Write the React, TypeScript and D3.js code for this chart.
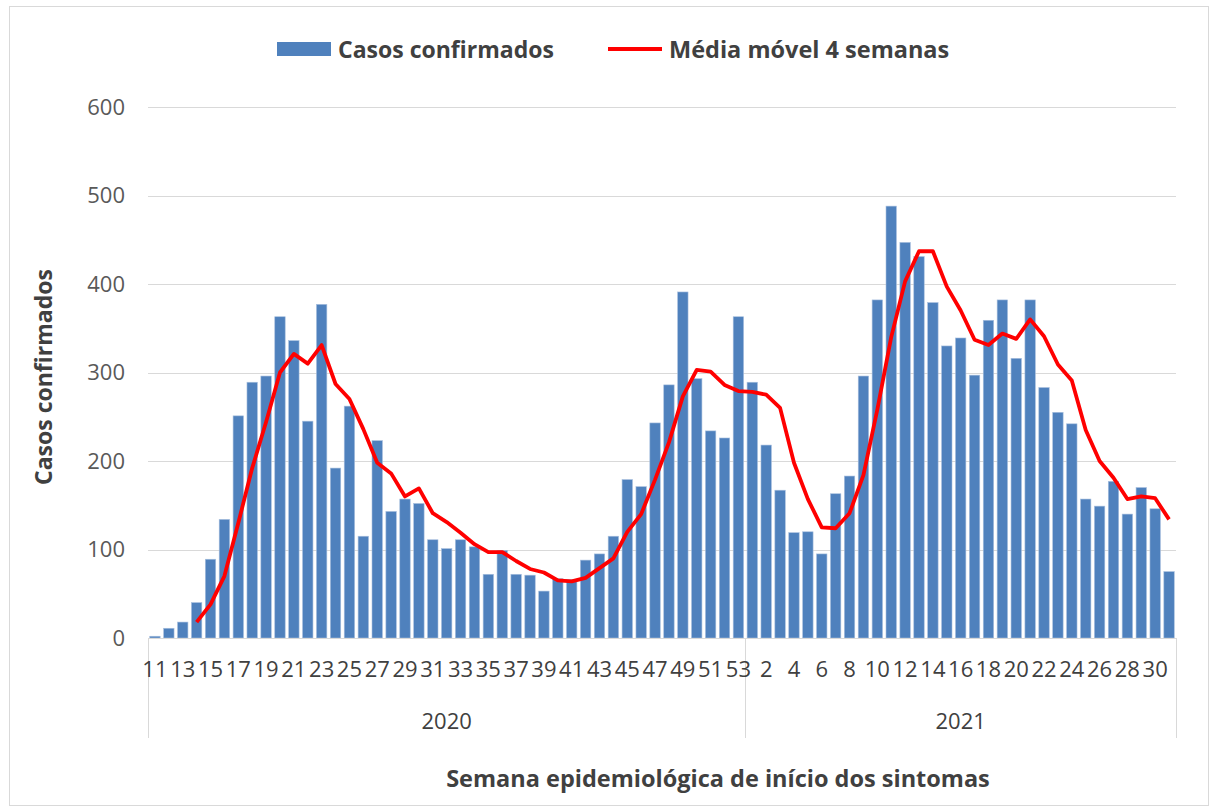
import React, { useEffect, useRef } from 'react';
import * as d3 from 'd3';

// semanas epidemiológicas
const weeks2020 = d3.range(11, 54);
const weeks2021 = d3.range(1, 32);

// casos confirmados por semana
const cases2020 = [
  2, 11, 18, 40, 89, 134, 251, 289, 296, 363,
  336, 245, 377, 192, 262, 115, 223, 143, 157, 152,
  111, 101, 111, 103, 72, 99, 72, 71, 53, 67,
  66, 88, 95, 115, 179, 171, 243, 286, 391, 293,
  234, 226, 363,
];
const cases2021 = [
  289, 218, 167, 119, 120, 95, 163, 183, 296, 382,
  488, 447, 431, 379, 330, 339, 297, 359, 382, 316,
  382, 283, 255, 242, 157, 149, 177, 140, 170, 146,
  75,
];

// média móvel 4 semanas (null = sem valor)
const avg2020 = [
  null, null, null, 18, 38, 70, 130, 192, 244, 300,
  321, 310, 331, 287, 270, 236, 198, 186, 160, 169,
  141, 131, 119, 106, 97, 97, 87, 78, 74, 65,
  64, 68, 79, 90, 120, 140, 179, 221, 273, 303,
  301, 286, 279,
];
const avg2021 = [
  278, 275, 260, 198, 157, 125, 124, 141, 184, 258,
  340, 403, 437, 437, 397, 370, 337, 331, 344, 338,
  360, 341, 309, 291, 235, 200, 181, 157, 160, 158,
  134,
];

const years = ['2020', '2021'];
const yTicks = [0, 100, 200, 300, 400, 500, 600];

const FONT = '"Open Sans", Lato, sans-serif';

function CasosChart() {
  const ref = useRef<SVGSVGElement>(null);
  const width = 1218;
  const height = 810;
  const plot = { left: 148, right: 1176, top: 107, bottom: 638 };

  useEffect(() => {
    drawChart();
  });

  function drawChart() {
    const data = [
      ...weeks2020.map((w, i) => ({ key: `2020-${w}`, week: w, year: '2020', cases: cases2020[i], avg: avg2020[i] })),
      ...weeks2021.map((w, i) => ({ key: `2021-${w}`, week: w, year: '2021', cases: cases2021[i], avg: avg2021[i] })),
    ];

    const svg = d3.select(ref.current);
    svg.selectAll('*').remove();

    const x = d3.scaleBand()
      .domain(data.map(d => d.key))
      .range([plot.left, plot.right])
      .paddingInner(0.25)
      .paddingOuter(0.125);

    const y = d3.scaleLinear()
      .domain([0, 600])
      .range([plot.bottom, plot.top]);

    // moldura
    svg.append('rect')
      .attr('x', 9.5).attr('y', 6.5)
      .attr('width', 1199).attr('height', 799)
      .style('fill', 'white')
      .style('stroke', '#d9d9d9')
      .style('stroke-width', 1);

    // grade
    svg.append('g')
      .selectAll('line')
      .data(yTicks)
      .enter()
      .append('line')
      .attr('x1', plot.left).attr('x2', plot.right)
      .attr('y1', d => Math.round(y(d)) + 0.5).attr('y2', d => Math.round(y(d)) + 0.5)
      .style('stroke', '#d9d9d9')
      .style('stroke-width', 1.2);

    svg.append('g')
      .selectAll('text')
      .data(yTicks)
      .enter()
      .append('text')
      .attr('x', 125)
      .attr('y', d => y(d))
      .attr('dy', '0.36em')
      .attr('text-anchor', 'end')
      .style('font-family', FONT)
      .style('font-size', '22px')
      .style('fill', '#595959')
      .text(d => d);

    // barras
    svg.append('g')
      .selectAll('rect')
      .data(data)
      .enter()
      .append('rect')
      .attr('x', d => x(d.key)!)
      .attr('y', d => y(d.cases))
      .attr('width', x.bandwidth())
      .attr('height', d => y(0) - y(d.cases))
      .style('fill', '#4f81bd')
      .style('stroke', '#a7bfde')
      .style('stroke-width', 0.6);

    // média móvel
    const line = d3.line<any>()
      .defined(d => d.avg != null)
      .x(d => x(d.key)! + x.bandwidth() / 2)
      .y(d => y(d.avg));

    svg.append('path')
      .datum(data)
      .attr('d', line)
      .style('fill', 'none')
      .style('stroke', '#ff0000')
      .style('stroke-width', 3.8)
      .style('stroke-linejoin', 'round');

    // eixo x
    svg.append('line')
      .attr('x1', plot.left).attr('x2', plot.right)
      .attr('y1', plot.bottom + 0.5).attr('y2', plot.bottom + 0.5)
      .style('stroke', '#d9d9d9');

    const splitX = x(`2021-1`)! - x.step() * x.paddingInner() / 2;
    const dividers = [plot.left, splitX, plot.right];
    svg.append('g')
      .selectAll('line')
      .data(dividers)
      .enter()
      .append('line')
      .attr('x1', d => Math.round(d) + 0.5).attr('x2', d => Math.round(d) + 0.5)
      .attr('y1', plot.bottom).attr('y2', 738)
      .style('stroke', '#d9d9d9');

    svg.append('g')
      .selectAll('text')
      .data(data.filter((d, i) => i % 2 === 0))
      .enter()
      .append('text')
      .attr('x', d => x(d.key)! + x.bandwidth() / 2)
      .attr('y', 677)
      .attr('text-anchor', 'middle')
      .style('font-family', FONT)
      .style('font-size', '22px')
      .style('fill', '#404040')
      .text(d => d.week);

    const yearCenters = [(plot.left + splitX) / 2, (splitX + plot.right) / 2];
    svg.append('g')
      .selectAll('text')
      .data(years)
      .enter()
      .append('text')
      .attr('x', (d, i) => yearCenters[i])
      .attr('y', 729)
      .attr('text-anchor', 'middle')
      .style('font-family', FONT)
      .style('font-size', '22px')
      .style('fill', '#404040')
      .text(d => d);

    // títulos dos eixos
    svg.append('text')
      .attr('transform', 'translate(52, 377) rotate(-90)')
      .attr('text-anchor', 'middle')
      .style('font-family', FONT)
      .style('font-weight', 'bold')
      .style('font-size', '23px')
      .style('fill', '#404040')
      .text('Casos confirmados');

    svg.append('text')
      .attr('x', 718)
      .attr('y', 787)
      .attr('text-anchor', 'middle')
      .style('font-family', FONT)
      .style('font-weight', 'bold')
      .style('font-size', '23.5px')
      .style('fill', '#404040')
      .text('Semana epidemiológica de início dos sintomas');

    // legenda
    const legend = svg.append('g');
    legend.append('rect')
      .attr('x', 277).attr('y', 42)
      .attr('width', 54).attr('height', 14)
      .style('fill', '#4f81bd');
    legend.append('text')
      .attr('x', 338).attr('y', 57.5)
      .style('font-family', FONT)
      .style('font-weight', 'bold')
      .style('font-size', '23px')
      .style('fill', '#404040')
      .text('Casos confirmados');
    legend.append('line')
      .attr('x1', 608).attr('x2', 662)
      .attr('y1', 49).attr('y2', 49)
      .style('stroke', '#ff0000')
      .style('stroke-width', 4);
    legend.append('text')
      .attr('x', 669).attr('y', 57.5)
      .style('font-family', FONT)
      .style('font-weight', 'bold')
      .style('font-size', '23.5px')
      .style('fill', '#404040')
      .text('Média móvel 4 semanas');
  }

  return (
    <svg
      ref={ref}
      width={width}
      height={height}
      style={{ position: 'absolute', left: 0, top: 0, background: 'white' }}
    />
  );
}

export default function App() {
  return <CasosChart />;
}
